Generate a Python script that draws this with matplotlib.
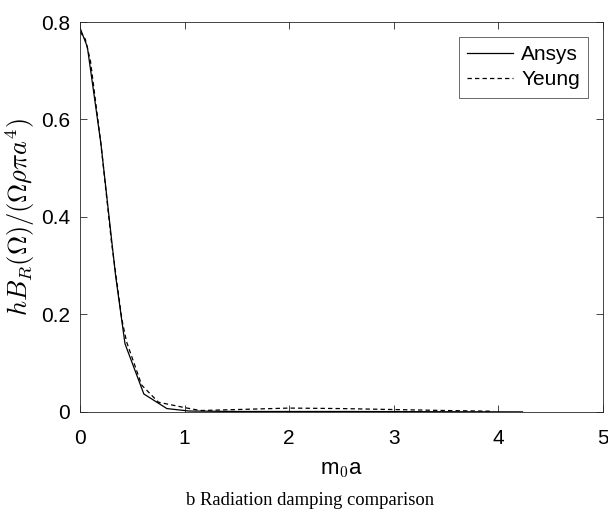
import matplotlib
matplotlib.use('Agg')
import matplotlib.pyplot as plt
import numpy as np

plt.rcParams['font.family'] = ['Liberation Sans', 'DejaVu Sans']
plt.rcParams['mathtext.fontset'] = 'cm'

# Ansys (solid)
ansys_x = [0.0, 0.07, 0.20, 0.34, 0.43, 0.61, 0.83, 1.04, 1.5, 2.0, 2.5, 3.0, 3.5, 4.0, 4.23]
ansys_y = [0.788, 0.749, 0.55, 0.28, 0.14, 0.037, 0.007, 0.002, 0.001, 0.001, 0.001, 0.0008, 0.0005, 0.0003, 0.0002]

# Yeung (dashed)
yeung_x = [0.0, 0.05, 0.10, 0.20, 0.30, 0.40, 0.445, 0.59, 0.75, 1.0, 1.15, 1.5, 2.0, 2.5, 3.0, 3.5, 3.95]
yeung_y = [0.78, 0.765, 0.72, 0.55, 0.35, 0.19, 0.144, 0.055, 0.02, 0.009, 0.003, 0.005, 0.008, 0.007, 0.005, 0.003, 0.0015]

fig = plt.figure(figsize=(6.08, 5.19), dpi=100)
ax = fig.add_axes([0.1316, 0.2062, 0.8602, 0.7514])

ax.plot(ansys_x, ansys_y, color='black', lw=0.9, label='Ansys')
ax.plot(yeung_x, yeung_y, color='black', lw=0.9, ls=(0, (3.5, 2.5)), label='Yeung')

ax.set_xlim(0, 5)
ax.set_ylim(0, 0.8)
ax.set_xticks([0, 1, 2, 3, 4, 5])
ax.set_yticks([0, 0.2, 0.4, 0.6, 0.8])
ax.set_yticklabels(['0', '0.2', '0.4', '0.6', '0.8'])
ax.tick_params(direction='in', top=True, right=True, labelsize=15, colors='#262626',
               length=5, width=0.6)
ax.tick_params(axis='x', pad=12)
ax.tick_params(axis='y', pad=7)
for lab in ax.get_xticklabels() + ax.get_yticklabels():
    lab.set_color('black')
for sp in ax.spines.values():
    sp.set_color('#262626')
    sp.set_linewidth(0.6)

ax.set_xlabel('m$_\\mathsf{0}$a', fontsize=16, labelpad=8)
ax.set_ylabel(r'$hB_R(\Omega)/(\Omega\rho\pi a^4)$', fontsize=19)
ax.yaxis.set_label_coords(-0.083, 0.5)

leg = ax.legend(loc='upper right', fontsize=15, frameon=True, fancybox=False,
                edgecolor='#262626', handlelength=2.2, borderpad=0.4,
                labelspacing=0.3, handletextpad=0.4, borderaxespad=0.7)
leg.get_frame().set_linewidth(0.6)

fig.text(0.51, 0.035, 'b Radiation damping comparison', ha='center', va='center',
         fontsize=13.4, family=['Liberation Serif', 'DejaVu Serif'])

fig.savefig('out.png', dpi=100)
